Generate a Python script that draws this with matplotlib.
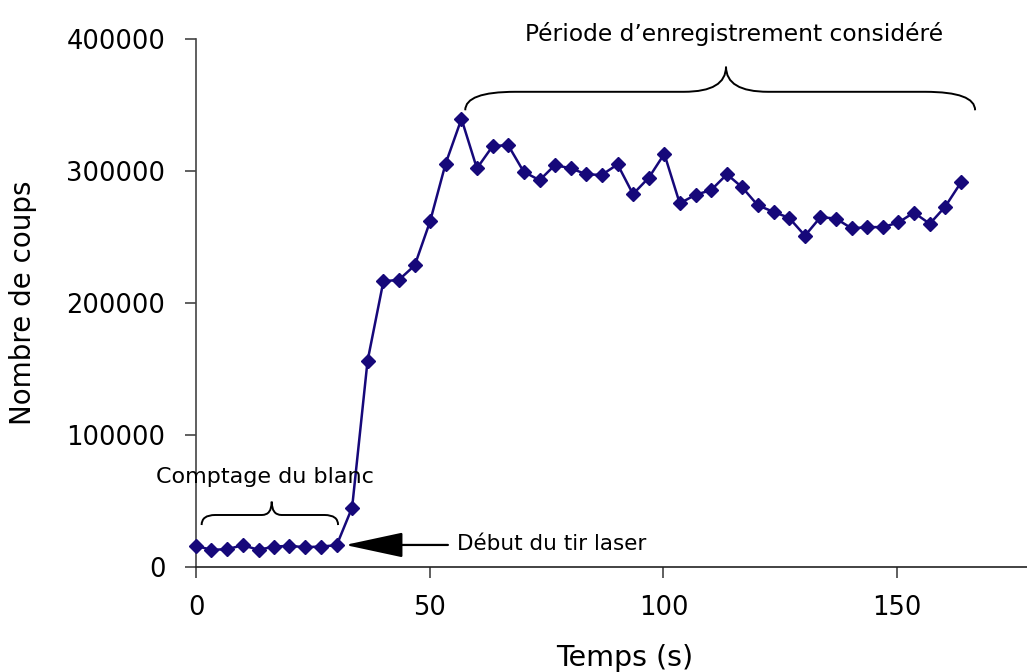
import matplotlib
matplotlib.use("Agg")
import matplotlib.pyplot as plt
from matplotlib.path import Path
from matplotlib.patches import PathPatch

# temps (s) et nombre de coups
temps = [0.0, 3.3, 6.7, 10.0, 13.4, 16.7, 20.0, 23.4, 26.7, 30.1,
         33.4, 36.7, 40.1, 43.4, 46.8, 50.1, 53.4, 56.8, 60.1, 63.5,
         66.8, 70.1, 73.5, 76.8, 80.2, 83.5, 86.8, 90.2, 93.5, 96.9,
         100.2, 103.5, 106.9, 110.2, 113.6, 116.9, 120.2, 123.6, 126.9, 130.3,
         133.6, 136.9, 140.3, 143.6, 147.0, 150.3, 153.6, 157.0, 160.3, 163.7]
coups = [16000, 13000, 13500, 16500, 13000, 15500, 16000, 15000, 15500, 16500,
         45000, 156000, 216500, 217500, 228500, 262000, 305500, 339500, 302000, 319000,
         319500, 299500, 293000, 304500, 302000, 297500, 297000, 305000, 282500, 295000,
         313000, 275500, 282000, 285500, 297500, 287500, 274000, 269000, 264500, 251000,
         265000, 264000, 256500, 257500, 257500, 261000, 268500, 260000, 273000, 291500]

x_ticks = [0, 50, 100, 150]
y_ticks = [0, 100000, 200000, 300000, 400000]

plt.rcParams['font.family'] = ['DejaVu Sans']


def brace(ax, x0, x1, xm, y_end, y_mid, y_tip, w_end, w_tip):
    # accolade horizontale, pointe vers le haut
    verts = [(x0, y_end), (x0, y_mid), (x0 + w_end, y_mid),
             (xm - w_tip, y_mid),
             (xm, y_mid), (xm, y_tip),
             (xm, y_mid), (xm + w_tip, y_mid),
             (x1 - w_end, y_mid),
             (x1, y_mid), (x1, y_end)]
    codes = [Path.MOVETO, Path.CURVE3, Path.CURVE3,
             Path.LINETO,
             Path.CURVE3, Path.CURVE3,
             Path.CURVE3, Path.CURVE3,
             Path.LINETO,
             Path.CURVE3, Path.CURVE3]
    patch = PathPatch(Path(verts, codes), facecolor='none', edgecolor='black',
                      lw=1.4, clip_on=False)
    ax.add_patch(patch)


fig = plt.figure(figsize=(10.27, 6.72), dpi=100)
ax = fig.add_axes([196 / 1027, 105 / 672, 831 / 1027, 528 / 672])

ax.plot(temps, coups, color='#16087a', lw=1.8, marker='D', markersize=7,
        markerfacecolor='#16087a', markeredgecolor='#16087a', clip_on=False, zorder=3)

ax.set_xlim(0, 177.8)
ax.set_ylim(0, 400000)
ax.set_xticks(x_ticks)
ax.set_yticks(y_ticks)
ax.set_yticklabels([str(v) for v in y_ticks])

for side in ['top', 'right']:
    ax.spines[side].set_visible(False)
ax.spines['left'].set_color('#444444')
ax.spines['bottom'].set_color('#222222')
ax.spines['left'].set_linewidth(1.2)
ax.spines['bottom'].set_linewidth(1.2)
ax.tick_params(axis='both', direction='out', length=8, width=1.2, colors='#444444',
               labelcolor='black', labelsize=18.5)
ax.tick_params(axis='y', pad=14)
ax.tick_params(axis='x', pad=12)

ax.set_xlabel('Temps (s)', fontsize=20.5)
ax.xaxis.set_label_coords(0.516, -0.145)
ax.set_ylabel('Nombre de coups', fontsize=20)
ax.yaxis.set_label_coords(-0.191, 0.5)

# annotations
brace(ax, 57.6, 166.7, 113.4, 346000, 360000, 379000, 10.7, 9.0)
ax.text(115.1, 398500, 'Période d\u2019enregistrement considéré', ha='center',
        va='baseline', fontsize=16.8)

brace(ax, 1.2, 30.4, 16.2, 31800, 39400, 49500, 2.9, 2.1)
ax.text(14.8, 63600, 'Comptage du blanc', ha='center', va='baseline', fontsize=16,
        zorder=4)

ax.annotate('', xy=(31.9, 16700), xytext=(53.9, 16700),
            arrowprops=dict(arrowstyle='-|>,head_length=3.67,head_width=0.79',
                            mutation_scale=10, color='black', lw=1.6,
                            shrinkA=0, shrinkB=0))
ax.text(55.8, 12900, 'Début du tir laser', ha='left', va='baseline', fontsize=15.5)

plt.savefig('out.png', dpi=100)
